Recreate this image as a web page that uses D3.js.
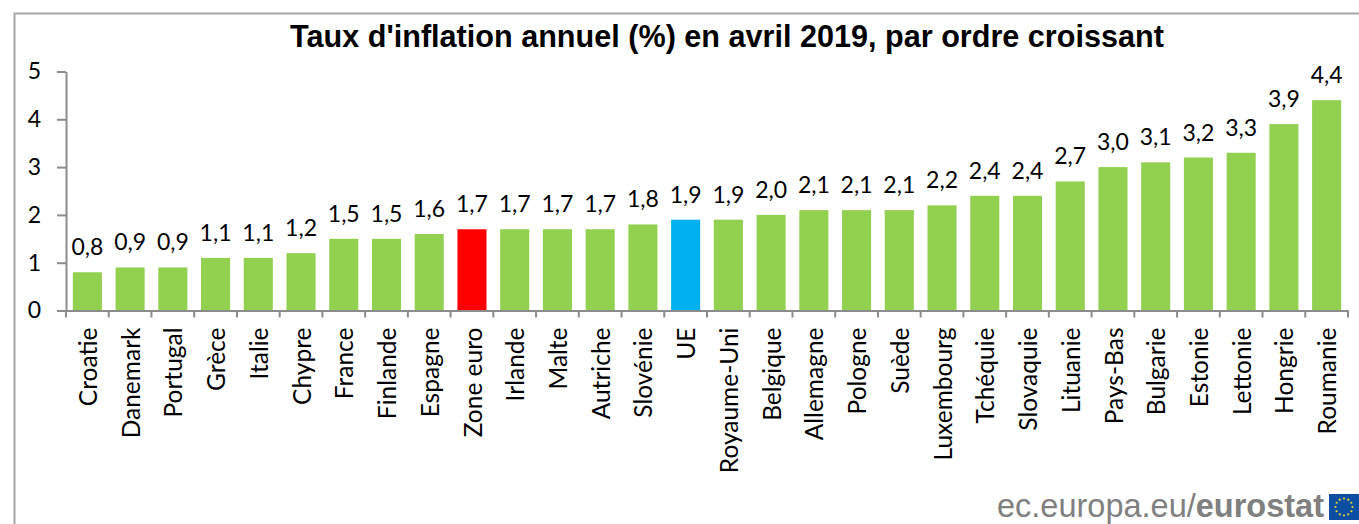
<!DOCTYPE html>
<html>
<head>
<meta charset="utf-8">
<script src="https://cdn.jsdelivr.net/npm/d3@7"></script>
<style>
  html, body { margin: 0; padding: 0; background: white; overflow: hidden; }
</style>
</head>
<body>
<div id="plot"></div>
<script>
// chart data
const countries = ["Croatie", "Danemark", "Portugal", "Grèce", "Italie", "Chypre", "France", "Finlande", "Espagne", "Zone euro",
                   "Irlande", "Malte", "Autriche", "Slovénie", "UE", "Royaume-Uni", "Belgique", "Allemagne", "Pologne", "Suède",
                   "Luxembourg", "Tchéquie", "Slovaquie", "Lituanie", "Pays-Bas", "Bulgarie", "Estonie", "Lettonie", "Hongrie", "Roumanie"];
const rates = [0.8, 0.9, 0.9, 1.1, 1.1, 1.2, 1.5, 1.5, 1.6, 1.7,
               1.7, 1.7, 1.7, 1.8, 1.9, 1.9, 2.0, 2.1, 2.1, 2.1,
               2.2, 2.4, 2.4, 2.7, 3.0, 3.1, 3.2, 3.3, 3.9, 4.4];
const yTicks = [0, 1, 2, 3, 4, 5];
const highlightColors = { "Zone euro": "#FF0000", "UE": "#00B0F0" };
const titleText = "Taux d'inflation annuel (%) en avril 2019, par ordre croissant";

const width = 1359, height = 524;
const labelFont = "Lato, Carlito, sans-serif";
const grey = "#8c8c8c";

const svg = d3.select("div#plot")
              .append("svg")
              .attr("width", width)
              .attr("height", height)
              .style("display", "block");

// outer frame, cut off by the picture on the right and bottom
svg.append("path")
   .attr("d", `M14.5,${height} V13.5 H${width}`)
   .attr("fill", "none")
   .attr("stroke", "#a6a6a6")
   .attr("stroke-width", 2);

const xScale = d3.scaleBand()
                 .domain(countries)
                 .range([66, 1348])
                 .paddingInner(0.32)
                 .paddingOuter(0.16);
const yScale = d3.scaleLinear()
                 .domain([0, 5])
                 .range([310.5, 71.5]);

// bars
svg.selectAll("rect.bar")
   .data(countries)
   .enter()
   .append("rect")
   .attr("class", "bar")
   .attr("x", d => xScale(d))
   .attr("y", (d, i) => yScale(rates[i]))
   .attr("width", xScale.bandwidth())
   .attr("height", (d, i) => yScale(0) - yScale(rates[i]))
   .attr("fill", d => highlightColors[d] || "#92D050");

// value labels
svg.selectAll("text.value")
   .data(countries)
   .enter()
   .append("text")
   .attr("class", "value")
   .attr("x", d => xScale(d) + xScale.bandwidth() / 2)
   .attr("y", (d, i) => yScale(rates[i]) - 17)
   .attr("text-anchor", "middle")
   .attr("font-family", labelFont)
   .attr("font-size", "23px")
   .attr("fill", "black")
   .text((d, i) => rates[i].toFixed(1).replace(".", ","));

// y axis
const yAxis = d3.axisLeft(yScale)
                .tickValues(yTicks)
                .tickFormat(d3.format("d"))
                .tickSize(9)
                .tickSizeOuter(0)
                .tickPadding(16);
const yG = svg.append("g")
              .attr("transform", "translate(66, 0)")
              .call(yAxis);
yG.selectAll("text")
  .attr("font-family", labelFont)
  .attr("font-size", "23px")
  .attr("fill", "black");

// x axis, ticks sit between the bars
const step = xScale.step();
const xAxis = d3.axisBottom(xScale)
                .tickSize(0)
                .tickPadding(0);
const xG = svg.append("g")
              .attr("transform", "translate(0, 310.5)")
              .call(xAxis);
xG.selectAll(".tick text")
  .attr("transform", "rotate(-90)")
  .attr("x", -17)
  .attr("y", 1)
  .attr("dy", "0.35em")
  .attr("text-anchor", "end")
  .attr("font-family", labelFont)
  .attr("font-size", "24.5px")
  .attr("fill", "black");
xG.selectAll("line.sep")
  .data(d3.range(countries.length + 1))
  .enter()
  .append("line")
  .attr("class", "sep")
  .attr("x1", i => xScale.range()[0] + i * step)
  .attr("x2", i => xScale.range()[0] + i * step)
  .attr("y1", 0)
  .attr("y2", 7);
svg.selectAll(".domain, .tick line, line.sep")
   .attr("stroke", grey)
   .attr("stroke-width", 2);

// title
svg.append("text")
   .attr("x", 727)
   .attr("y", 47)
   .attr("text-anchor", "middle")
   .attr("font-family", "Liberation Sans, Arial, sans-serif")
   .attr("font-weight", "bold")
   .attr("font-size", "30.6px")
   .attr("fill", "black")
   .text(titleText);

// eurostat signature
const logo = svg.append("text")
                .attr("x", 1324)
                .attr("y", 517)
                .attr("text-anchor", "end")
                .attr("font-family", "Liberation Sans, Arial, sans-serif")
                .attr("font-size", "32.5px")
                .attr("fill", "#808080");
logo.append("tspan").text("ec.europa.eu/");
logo.append("tspan").attr("font-weight", "bold").text("eurostat");

const flag = svg.append("g").attr("transform", "translate(1344, 507)");
flag.append("rect")
    .attr("x", -15)
    .attr("y", -13)
    .attr("width", 30)
    .attr("height", 26)
    .attr("fill", "#0B4EA2");
flag.selectAll("circle")
    .data(d3.range(12))
    .enter()
    .append("circle")
    .attr("cx", i => 8.5 * Math.cos(i * Math.PI / 6))
    .attr("cy", i => 8.5 * Math.sin(i * Math.PI / 6))
    .attr("r", 1.1)
    .attr("fill", "#E6D82A");
</script>
</body>
</html>
